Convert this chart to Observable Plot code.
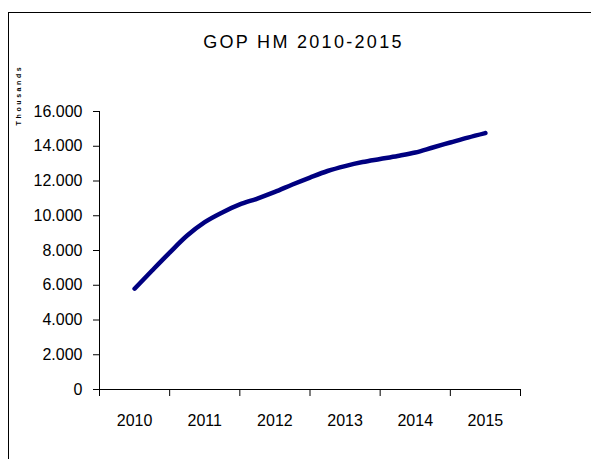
<!DOCTYPE html>
<html>
<head>
<meta charset="utf-8">
<script src="https://cdn.jsdelivr.net/npm/d3@7"></script>
<script src="https://cdn.jsdelivr.net/npm/@observablehq/plot@0.6"></script>
<style>
  html, body { margin: 0; padding: 0; background: #fff; color: #000; }
  #wrap { position: relative; width: 591px; height: 459px; overflow: hidden; font-family: "Liberation Sans", Arial, sans-serif; }
  #border { position: absolute; left: 8px; top: 12px; width: 700px; height: 600px; border-left: 1.5px solid #000; border-top: 1.5px solid #000; }
  #title { position: absolute; left: 0; width: 607px; top: 33px; text-align: center; font-size: 18px; line-height: 18px; letter-spacing: 2.3px; }
  #ylab { position: absolute; left: 18px; top: 95px; transform: translate(-50%, -50%) rotate(-90deg); font-size: 7px; font-weight: bold; letter-spacing: 2.6px; white-space: nowrap; }
  #chart { position: absolute; left: 0; top: 0; }
</style>
</head>
<body>
<div id="wrap">
  <div id="border"></div>
  <div id="chart"></div>
  <div id="title">GOP HM 2010-2015</div>
  <div id="ylab">Thousands</div>
</div>
<script>
// Data (values in thousands shown as units)
const years = [2010, 2011, 2012, 2013, 2014, 2015];
const yearBoundaries = [2009.5, 2010.5, 2011.5, 2012.5, 2013.5, 2014.5, 2015.5];
const periods = [2010, 2010.25, 2010.5, 2010.75, 2011, 2011.25, 2011.5, 2011.75, 2012, 2012.25, 2012.5, 2012.75, 2013, 2013.25, 2013.5, 2013.75, 2014, 2014.25, 2014.5, 2014.75, 2015];
const values = [5800, 6850, 7880, 8860, 9630, 10190, 10650, 10990, 11370, 11800, 12200, 12575, 12860, 13090, 13265, 13440, 13640, 13930, 14215, 14500, 14760];
const yTicks = [0, 2000, 4000, 6000, 8000, 10000, 12000, 14000, 16000];

const data = periods.map((p, i) => ({x: p, y: values[i]}));
const locale = d3.formatLocale({decimal: ",", thousands: ".", grouping: [3], currency: ["", ""]});
const fmtY = locale.format(",");

const chart = Plot.plot({
  width: 591,
  height: 459,
  marginLeft: 99,
  marginRight: 71,
  marginTop: 111,
  marginBottom: 70,
  style: {fontFamily: "'Liberation Sans', Arial, sans-serif", fontSize: "16px", color: "#000", background: "transparent"},
  x: {type: "linear", domain: [yearBoundaries[0], yearBoundaries[yearBoundaries.length - 1]], axis: null},
  y: {domain: [yTicks[0], yTicks[yTicks.length - 1]], axis: null},
  marks: [
    Plot.axisY({ticks: yTicks, tickSize: 6, tickPadding: 11, tickFormat: fmtY, label: null, stroke: "#000"}),
    Plot.axisX({ticks: yearBoundaries, tickSize: 7, tickFormat: () => "", label: null, stroke: "#000"}),
    Plot.axisX({ticks: years, tickSize: 0, tickPadding: 25, tickFormat: d3.format("d"), label: null}),
    Plot.ruleX([yearBoundaries[0]], {stroke: "#000", strokeWidth: 1}),
    Plot.ruleY([yTicks[0]], {stroke: "#000", strokeWidth: 1}),
    Plot.line(data, {x: "x", y: "y", stroke: "#000080", strokeWidth: 4.5, curve: "monotone-x", strokeLinecap: "round", strokeLinejoin: "round"})
  ]
});
document.getElementById("chart").appendChild(chart);
</script>
</body>
</html>
